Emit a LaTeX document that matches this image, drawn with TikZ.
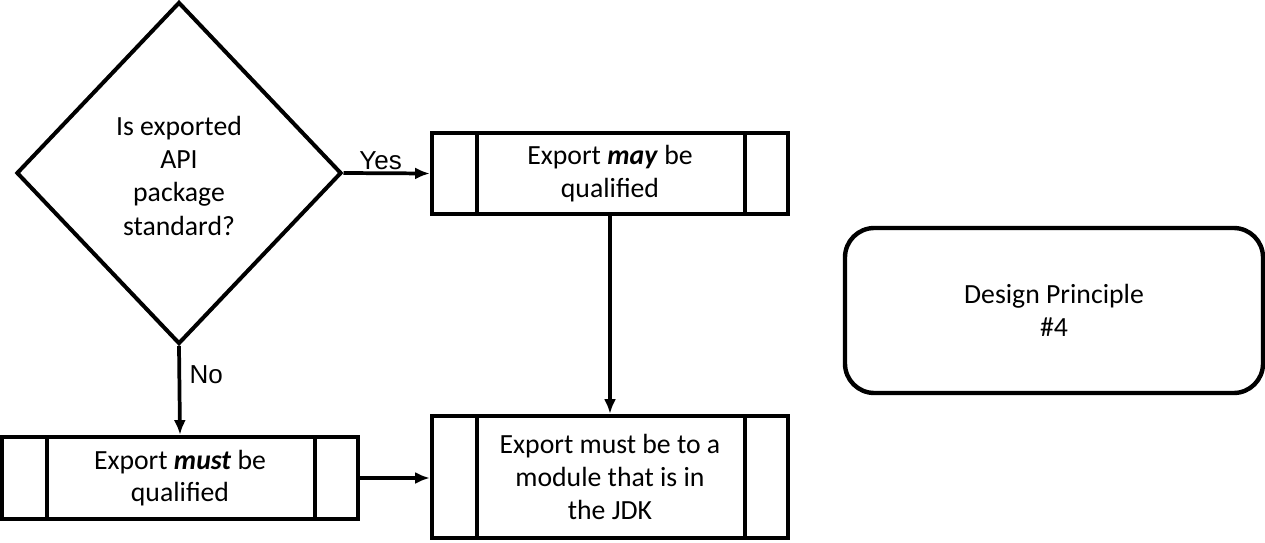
\documentclass[tikz,border=0pt]{standalone}
\usepackage{fontspec}
\setmainfont{Carlito}
\newfontfamily\arialfont{Liberation Sans}
\usetikzlibrary{arrows.meta,shapes.geometric}

\tikzset{
  box/.style={rectangle, draw, line width=3.3pt, align=center,
    font=\fontsize{20.8}{24.5}\selectfont, minimum width=267pt,
    path picture={
      \draw[line width=2.8pt] ([xshift=33.75pt]path picture bounding box.north west) -- ([xshift=33.75pt]path picture bounding box.south west);
      \draw[line width=2.8pt] ([xshift=-32.25pt]path picture bounding box.north east) -- ([xshift=-32.25pt]path picture bounding box.south east);
    }},
  flow/.style={line width=2.8pt, -{Latex[length=11pt,width=9pt]}},
  answer/.style={font=\arialfont\fontsize{19.5}{21}\selectfont}
}

\begin{document}
\begin{tikzpicture}[x=0.75pt, y=-0.75pt]
    \useasboundingbox (0,0) rectangle (1265,543);

    % nodes
    \node (std) at (179,173) [diamond, draw, line width=3pt, inner sep=0pt, align=center,
        minimum width=243.75pt, minimum height=256.5pt,
        font=\fontsize{20.8}{24.8}\selectfont] {\\[-6pt]Is exported\\API\\package\\standard?};
    \node (may) at (610,173.5) [box, minimum height=60.75pt] {Export \textbf{\textit{may}} be\\qualified};
    \node (must) at (180,478) [box, minimum height=61.5pt] {Export \textbf{\textit{must}} be\\qualified};
    \node (jdk) at (610,477) [box, minimum height=91.5pt] {Export must be to a\\module that is in\\the JDK};
    \node (dp) at (1054,310.5) [rectangle, draw, line width=3.3pt, rounded corners=22pt, align=center,
        minimum width=313.5pt, minimum height=123.75pt,
        font=\fontsize{20.8}{24.5}\selectfont] {Design Principle\\\#4};

    % paths
    \draw[flow] (std.east) -- node[answer, above, pos=0.43, inner sep=1.5pt] (yes) {Yes} (may.west);
    \draw[flow] (std.south) -- node[answer, right, pos=0.32, xshift=3pt] (no) {No} (must.north);
    \draw[flow] (may.south) -- (jdk.north);
    \draw[flow] (must.east) -- (must.east -| jdk.west);
\end{tikzpicture}
\end{document}
